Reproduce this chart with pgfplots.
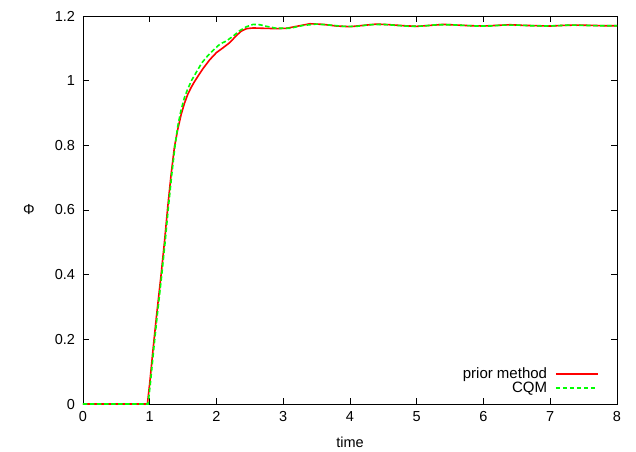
\documentclass[border=0pt]{standalone}
\usepackage{pgfplots}
\pgfplotsset{compat=1.18}
\usepackage{fontspec}
\setmainfont{Liberation Sans}
\begin{document}
\fontsize{14.5}{16}\selectfont
\begin{tikzpicture}[x=1pt,y=1pt]
\useasboundingbox (-83,-47) rectangle (553,404);
\begin{axis}[
  at={(0,0)}, anchor=south west,
  scale only axis, width=534pt, height=388pt,
  xmin=0, xmax=8, ymin=0, ymax=1.2,
  xtick={0,1,...,8}, ytick={0,0.2,0.4,0.6,0.8,1,1.2},
  yticklabels={0,0.2,0.4,0.6,0.8,1,1.2},
  tick align=inside, major tick length=6pt,
  tick style={black, line width=0.6pt},
  axis line style={black, line width=0.8pt},
  /pgf/number format/assume math mode=true,
  ticklabel style={font=\fontsize{14.5}{16}\selectfont},
  xticklabel style={yshift=-2pt},
  yticklabel style={xshift=-3pt},
  xlabel={time}, ylabel={Φ},
  label style={font=\fontsize{14.5}{16}\selectfont},
  xlabel style={at={(0.5,0)}, anchor=center, yshift=-38pt},
  ylabel style={rotate=-90, at={(0,0.5)}, anchor=center, xshift=-54pt},
  legend style={draw=none, fill=none, at={(0.966,0.022)}, anchor=south east,
    font=\fontsize{15}{15}\selectfont, row sep=-1pt, inner sep=0pt,
    column sep=7pt, nodes={inner sep=1pt}},
  legend cell align=right, legend plot pos=right,
  legend image code/.code={\draw[#1] (0pt,0pt) -- (42pt,0pt);},
]
\addplot[red, line width=1.6pt] coordinates {
(0,0) (0.965,0) (1.0,0.065) (1.05,0.17) (1.10,0.27) (1.17,0.40) (1.22,0.50)
(1.27,0.61) (1.32,0.71) (1.37,0.795) (1.42,0.85) (1.47,0.895) (1.52,0.93)
(1.57,0.958) (1.62,0.979) (1.67,0.997) (1.72,1.013) (1.80,1.038) (1.90,1.065)
(2.00,1.087) (2.10,1.102) (2.20,1.118) (2.30,1.140) (2.37,1.153) (2.45,1.161)
(2.55,1.163) (2.70,1.162) (2.9,1.161) (3.05,1.162) (3.2,1.168)
(3.4,1.176) (3.6,1.174) (3.8,1.169) (4.0,1.167) (4.2,1.171) (4.4,1.175)
(4.6,1.173) (4.8,1.170) (5.0,1.168) (5.2,1.171) (5.4,1.174) (5.6,1.172)
(5.8,1.170) (6.0,1.169) (6.2,1.171) (6.4,1.173) (6.6,1.171) (6.8,1.170)
(7.0,1.169) (7.2,1.171) (7.4,1.172) (7.6,1.171) (7.8,1.170) (8.0,1.170)
};
\addlegendentry{prior method}
\addplot[green, line width=1.6pt, dash pattern=on 4.5pt off 2.5pt] coordinates {
(0,0) (0.975,0) (1.01,0.065) (1.06,0.17) (1.11,0.27) (1.18,0.40) (1.23,0.50)
(1.28,0.61) (1.33,0.71) (1.38,0.80) (1.42,0.86) (1.47,0.91) (1.52,0.948)
(1.57,0.975) (1.63,1.002) (1.70,1.027) (1.78,1.055) (1.86,1.075) (1.93,1.09)
(2.05,1.113) (2.15,1.123) (2.25,1.138) (2.35,1.155) (2.45,1.167) (2.55,1.174)
(2.65,1.173) (2.75,1.168) (2.9,1.162) (3.1,1.162) (3.3,1.171) (3.5,1.175)
(3.7,1.172) (3.9,1.168) (4.1,1.168) (4.3,1.173) (4.5,1.174) (4.7,1.171)
(4.9,1.168) (5.1,1.169) (5.3,1.173) (5.5,1.173) (5.7,1.171) (5.9,1.169)
(6.1,1.169) (6.3,1.172) (6.5,1.172) (6.7,1.170) (6.9,1.169) (7.1,1.170)
(7.3,1.172) (7.5,1.171) (7.7,1.170) (8.0,1.170)
};
\addlegendentry{CQM}
\end{axis}
\end{tikzpicture}
\end{document}
